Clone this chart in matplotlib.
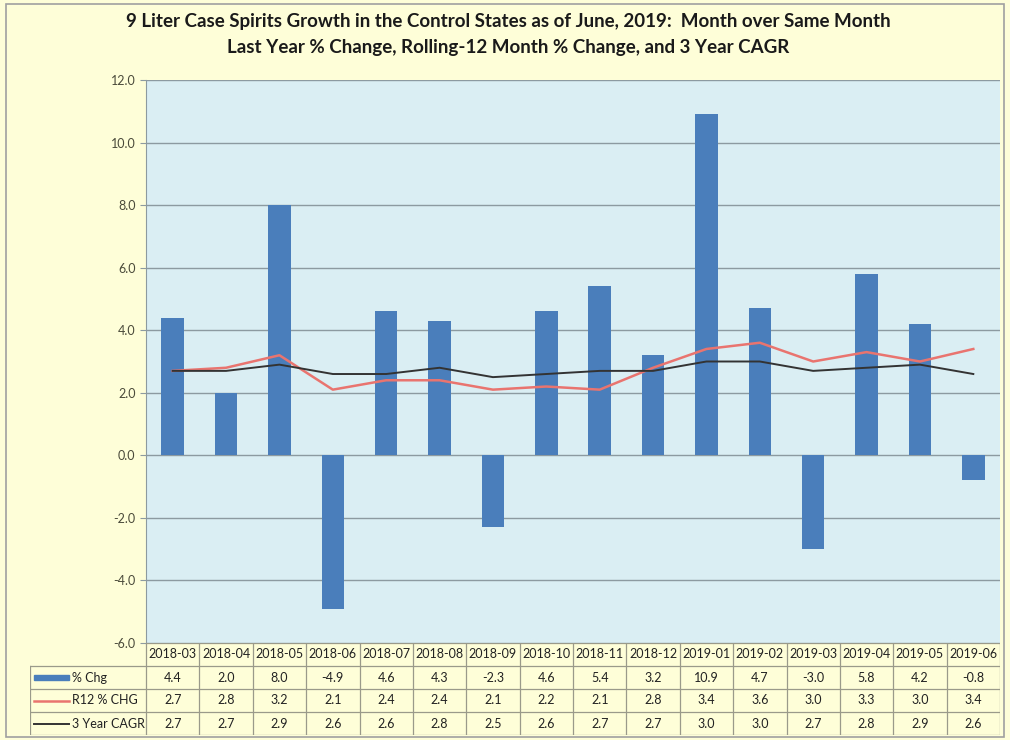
import matplotlib.pyplot as plt
from matplotlib.patches import Rectangle

# --------------------------------------------------------------------------
# data
# --------------------------------------------------------------------------
months = ["2018-03", "2018-04", "2018-05", "2018-06", "2018-07", "2018-08",
          "2018-09", "2018-10", "2018-11", "2018-12", "2019-01", "2019-02",
          "2019-03", "2019-04", "2019-05", "2019-06"]
pct_chg = [4.4, 2.0, 8.0, -4.9, 4.6, 4.3, -2.3, 4.6, 5.4, 3.2, 10.9, 4.7,
           -3.0, 5.8, 4.2, -0.8]
r12_chg = [2.7, 2.8, 3.2, 2.1, 2.4, 2.4, 2.1, 2.2, 2.1, 2.8, 3.4, 3.6,
           3.0, 3.3, 3.0, 3.4]
cagr_3y = [2.7, 2.7, 2.9, 2.6, 2.6, 2.8, 2.5, 2.6, 2.7, 2.7, 3.0, 3.0,
           2.7, 2.8, 2.9, 2.6]
series_names = ["% Chg", "R12 % CHG", "3 Year CAGR"]
yticks = [-6.0, -4.0, -2.0, 0.0, 2.0, 4.0, 6.0, 8.0, 10.0, 12.0]

BAR_C = "#4a7ebb"
RED_C = "#e9746f"
BLK_C = "#333333"
BG = "#fefed8"
PLOT_BG = "#daeef3"
GRID_C = "#8c9aa0"
TXT_C = "#4a4a3a"
W, H = 1010, 740

plt.rcParams["font.family"] = ["Lato", "DejaVu Sans"]

fig = plt.figure(figsize=(W / 100, H / 100), dpi=100, facecolor=BG)
fig.patches.append(Rectangle((6 / W, 3 / H), 998 / W, 733 / H, transform=fig.transFigure,
                             fill=False, ec="#a0a0a0", lw=1.2))

# ---- main chart ----
left, right, top, bottom = 146, 1000, 80, 643
ax = fig.add_axes([left / W, 1 - bottom / H, (right - left) / W, (bottom - top) / H])
ax.set_facecolor(PLOT_BG)
x = list(range(len(months)))
ax.bar(x, pct_chg, width=0.42, color=BAR_C, zorder=3)
ax.plot(x, r12_chg, color=RED_C, lw=1.8, zorder=4)
ax.plot(x, cagr_3y, color=BLK_C, lw=1.4, zorder=5)
ax.set_xlim(-0.5, len(months) - 0.5)
ax.set_ylim(-6, 12)
ax.set_yticks(yticks)
ax.set_yticklabels([f"{v:.1f}" for v in yticks], fontsize=9, color=TXT_C)
ax.tick_params(axis="y", length=4, color=GRID_C)
ax.set_xticks([])
ax.grid(axis="y", color=GRID_C, lw=1.0, zorder=0)
for s in ["top", "right", "bottom"]:
    ax.spines[s].set_visible(False)
ax.spines["left"].set_color(GRID_C)

fig.text(0.503, 1 - 22 / H, "9 Liter Case Spirits Growth in the Control States as of June, 2019:  Month over Same Month",
         ha="center", va="center", fontsize=13.5, fontweight="bold", color="#1a1a1a")
fig.text(0.503, 1 - 48 / H, "Last Year % Change, Rolling-12 Month % Change, and 3 Year CAGR",
         ha="center", va="center", fontsize=13.5, fontweight="bold", color="#1a1a1a")

# ---- data table below ----
tleft, tbottom = 30, 735
col_w = (right - left) / len(months)
label_cols = (left - tleft) / col_w
tax = fig.add_axes([tleft / W, 1 - tbottom / H, (right - tleft) / W, (tbottom - bottom) / H])
tax.set_xlim(-0.5 - label_cols, len(months) - 0.5)
tax.set_ylim(0, 4)
tax.axis("off")
line_kw = dict(color="#9a9a8a", lw=0.9)
x0 = -0.5 - label_cols
x1 = len(months) - 0.5
# horizontal lines
tax.plot([-0.5, x1], [4, 4], **line_kw)
for yy in [0, 1, 2, 3]:
    tax.plot([x0, x1], [yy, yy], **line_kw)
# vertical lines
tax.plot([x0, x0], [0, 3], **line_kw)
for i in range(len(months) + 1):
    tax.plot([i - 0.5, i - 0.5], [0, 4], **line_kw)
for i, m in enumerate(months):
    tax.text(i, 3.5, m, ha="center", va="center", fontsize=9, color="#222222")
rows = [pct_chg, r12_chg, cagr_3y]
for r, vals in enumerate(rows):
    yy = 2.5 - r
    for i, v in enumerate(vals):
        tax.text(i, yy, f"{v:.1f}", ha="center", va="center", fontsize=9, color="#222222")
    tax.text(x0 + 0.78, yy, series_names[r], ha="left", va="center", fontsize=9, color="#222222")
# legend keys inside the label cells
tax.add_patch(Rectangle((x0 + 0.08, 2.38), 0.66, 0.24, color=BAR_C))
tax.plot([x0 + 0.08, x0 + 0.74], [1.5, 1.5], color=RED_C, lw=1.8)
tax.plot([x0 + 0.08, x0 + 0.74], [0.5, 0.5], color=BLK_C, lw=1.4)

fig.savefig("out.png", dpi=100, facecolor=BG)
